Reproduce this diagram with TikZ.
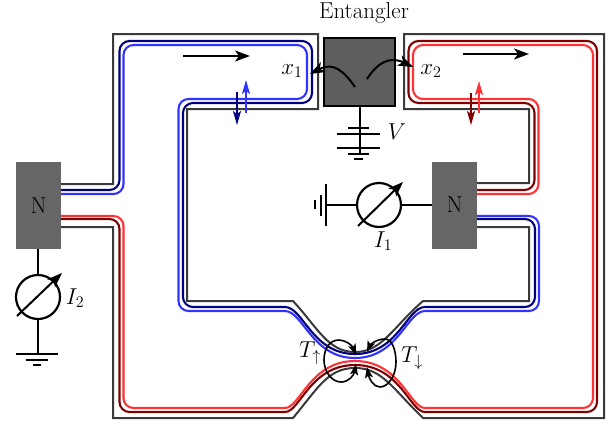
\RequirePackage{fix-cm}
\documentclass[tikz,border=0pt]{standalone}
\usetikzlibrary{arrows.meta}
\definecolor{gatec}{HTML}{3A3A3A}
\definecolor{dblue}{HTML}{00007F}
\definecolor{lblue}{HTML}{3333FF}
\definecolor{dred}{HTML}{7F0000}
\definecolor{lred}{HTML}{FF3333}
\definecolor{boxc}{HTML}{666666}
\definecolor{entc}{HTML}{5E5E5E}
\tikzset{
  gate/.style={draw=gatec,line width=2pt},
  edge/.style={line width=2.1pt,rounded corners=#1},
  wire/.style={draw=black,line width=2pt},
  bighead/.style={-{Stealth[length=15pt,width=11pt,inset=4pt]}},
  bigarrow/.style={line width=2pt,bighead},
  smallarrow/.style={line width=1.6pt,-{Stealth[length=14pt,width=8pt,inset=3pt]}},
  contact/.style={fill=boxc,minimum width=45pt,minimum height=87pt,inner sep=0pt},
  lab/.style={font=\fontsize{23}{26}\selectfont,inner sep=0pt},
  meter/.style={circle,draw=black,line width=2.2pt,minimum size=44pt,inner sep=0pt},
  loopc/.style={line width=1.6pt,{Stealth[length=11pt,width=8pt,inset=2.5pt]}-{Stealth[length=11pt,width=8pt,inset=2.5pt]}},
}
\begin{document}
\begin{tikzpicture}[x=1pt,y=-1pt]
\useasboundingbox (0,0) rectangle (615,426);
% contacts
\node[contact] (NL) at (38.5,205.5) {};
\node[contact] (NR) at (454.5,205) {};
\node[lab] at (NL) {N};
\node[lab] at (NR) {N};
% gates
\draw[gate,line join=miter] (61,184) -- (113,184) -- (113,34) -- (318,34) -- (318,109) -- (187,109) -- (187,301) -- (293,301)
  .. controls (318,328) and (328,352) .. (355,352) .. controls (382,352) and (392,328) .. (423,301)
  -- (529,301) -- (529,227) -- (477,227);
\draw[gate,line join=miter] (477,183) -- (529,183) -- (529,109) -- (404,109) -- (404,34) -- (604,34) -- (604,418) -- (423,418)
  .. controls (392,388) and (382,368) .. (355,368) .. controls (328,368) and (318,388) .. (293,418)
  -- (113,418) -- (113,227) -- (61,227);
% dark blue
\draw[dblue,edge=10pt] (61,190) -- (119.5,190) -- (119.5,41) -- (312,41) -- (312,103) -- (183,103) -- (183,307) -- (285,307);
\draw[dblue,line width=2.1pt] (285,307) .. controls (303,307) and (312,354) .. (355,354) .. controls (398,354) and (407,307) .. (425,307);
\draw[dblue,edge=10pt] (425,307) -- (535,307) -- (535,219) -- (477,219);
% light blue
\draw[lblue,edge=10pt] (61,194) -- (123.5,194) -- (123.5,45) -- (307,45) -- (307,99) -- (178.5,99) -- (178.5,311) -- (285,311);
\draw[lblue,line width=2.1pt] (285,311) .. controls (303,311) and (312,358) .. (355,358) .. controls (398,358) and (407,311) .. (425,311);
\draw[lblue,edge=10pt] (425,311) -- (539,311) -- (539,216) -- (477,216);
% dark red
\draw[dred,edge=10pt] (477,190) -- (534.5,190) -- (534.5,103) -- (408.5,103) -- (408.5,41) -- (597,41) -- (597,412) -- (425,412);
\draw[dred,line width=2.1pt] (425,412) .. controls (410,412) and (400,365) .. (355,365) .. controls (310,365) and (300,412) .. (285,412);
\draw[dred,edge=10pt] (285,412) -- (119.5,412) -- (119.5,219) -- (61,219);
% light red
\draw[lred,edge=10pt] (477,194) -- (538.5,194) -- (538.5,99) -- (413,99) -- (413,45) -- (593,45) -- (593,408) -- (425,408);
\draw[lred,line width=2.1pt] (425,408) .. controls (410,408) and (400,361) .. (355,361) .. controls (310,361) and (300,408) .. (285,408);
\draw[lred,edge=10pt] (285,408) -- (123.5,408) -- (123.5,216) -- (61,216);
% propagation arrows
\coordinate (ha) at (183,56); \coordinate (hb) at (250,56);
\coordinate (hc) at (463,54); \coordinate (hd) at (529,54);
\draw[bigarrow] (ha) -- (hb);
\draw[bigarrow] (hc) -- (hd);
\coordinate (a1) at (237,92); \coordinate (a2) at (237,125);
\coordinate (a3) at (246,113); \coordinate (a4) at (246,80);
\coordinate (a5) at (471,93); \coordinate (a6) at (471,125);
\coordinate (a7) at (479,113); \coordinate (a8) at (479,81);
\draw[smallarrow,dblue] (a1) -- (a2);
\draw[smallarrow,lblue] (a3) -- (a4);
\draw[smallarrow,dred] (a5) -- (a6);
\draw[smallarrow,lred] (a7) -- (a8);
% entangler
\node[draw=black,line width=1.8pt,fill=entc,minimum width=71pt,minimum height=68pt,inner sep=0pt] (ent) at (359.5,72) {};
\node[lab,anchor=base] at (364,18.5) {Entangler};
\coordinate (e1) at (355,87); \coordinate (e2) at (310,74);
\coordinate (e3) at (367,79); \coordinate (e4) at (413,67);
\draw[bigarrow] (e1) .. controls (343,70) and (333,62) .. (e2);
\draw[bigarrow] (e3) .. controls (378,62) and (390,56) .. (e4);
\node[lab] at (292,71) {$x_1$};
\node[lab] at (431,71) {$x_2$};
% voltage
\coordinate (v0) at (ent.south); \coordinate (v1) at (359.5,154);
\draw[wire] (v0) -- (v1);
\draw[wire] (348,128) -- (369,128);
\draw[wire] (337,134) -- (380,134);
\draw[wire] (337,148) -- (380,148);
\draw[wire] (348,154) -- (369,154);
\draw[wire] (354,159) -- (363,159);
\node[lab] at (397,132) {$V$};
% left meter
\node[meter] (ML) at (38,297) {};
\coordinate (gl) at (38,354);
\draw[wire] (NL.south -| ML) -- (ML.north);
\draw[wire] (ML.south) -- (gl);
\draw[line width=2pt,bighead] (17,316) -- (62,273);
\draw[wire] (16,354) -- (58,354);
\draw[wire] (26,360) -- (48,360);
\draw[wire] (33,365) -- (41,365);
\node[lab] at (75,298) {$I_2$};
% right meter
\node[meter] (MR) at (379,205) {};
\coordinate (gr) at (326,205);
\draw[wire] (NR.west) -- (MR.east);
\draw[wire] (MR.west) -- (gr);
\draw[line width=2pt,bighead] (358,226) -- (403,182);
\draw[wire] (326,184) -- (326,226);
\draw[wire] (321,195) -- (321,216);
\draw[wire] (315,200) -- (315,209);
\node[lab] at (383,241) {$I_1$};
% loops
\coordinate (l1) at (356,355); \coordinate (l2) at (356,364);
\coordinate (l3) at (367,352); \coordinate (l4) at (367,367);
\draw[loopc] (l1) .. controls (352,345) and (345,340) .. (339,340) .. controls (330,340) and (324,348) .. (324,360) .. controls (324,372) and (332,382) .. (341,382) .. controls (349,382) and (354,375) .. (l2);
\draw[loopc] (l3) .. controls (370,345) and (376,339) .. (385,339) .. controls (392,339) and (396,350) .. (396,362) .. controls (396,376) and (388,387) .. (380,387) .. controls (373,387) and (369,378) .. (l4);
\node[lab] at (310,353) {$T_\uparrow$};
\node[lab] at (412,358) {$T_\downarrow$};
\end{tikzpicture}
\end{document}
